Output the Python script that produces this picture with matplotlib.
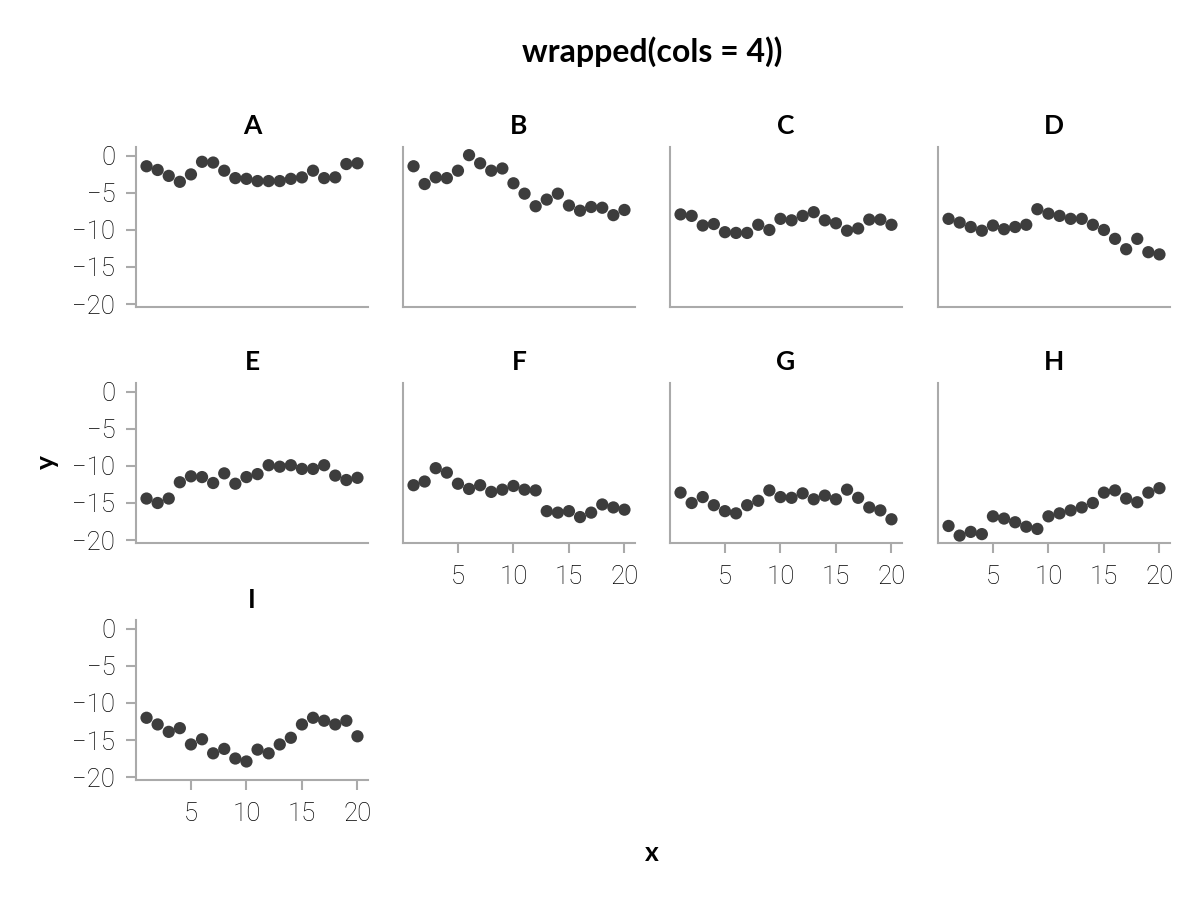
import matplotlib
matplotlib.use("Agg")
import matplotlib.pyplot as plt
from matplotlib import font_manager
import numpy as np

plt.rcParams["font.family"] = ["Lato", "DejaVu Sans"]

PANELS = ["A", "B", "C", "D", "E", "F", "G", "H", "I"]
X = list(range(1, 21))

Y_A = [-1.4, -1.9, -2.7, -3.5, -2.5, -0.8, -0.9, -2.0, -3.0, -3.1,
       -3.4, -3.4, -3.4, -3.1, -2.9, -2.0, -3.0, -2.9, -1.1, -1.0]
Y_B = [-1.4, -3.8, -2.9, -3.0, -2.0, 0.1, -1.0, -2.0, -1.7, -3.7,
       -5.1, -6.8, -5.9, -5.1, -6.7, -7.4, -6.9, -7.0, -8.0, -7.3]
Y_C = [-7.9, -8.1, -9.4, -9.2, -10.3, -10.4, -10.4, -9.3, -10.0, -8.5,
       -8.7, -8.1, -7.6, -8.7, -9.1, -10.1, -9.8, -8.6, -8.6, -9.3]
Y_D = [-8.5, -9.0, -9.6, -10.1, -9.4, -9.9, -9.6, -9.3, -7.2, -7.8,
       -8.1, -8.5, -8.5, -9.3, -10.0, -11.2, -12.6, -11.2, -13.0, -13.3]
Y_E = [-14.4, -15.0, -14.4, -12.2, -11.4, -11.5, -12.3, -11.0, -12.4, -11.5,
       -11.1, -9.9, -10.1, -9.9, -10.4, -10.4, -9.9, -11.3, -11.9, -11.6]
Y_F = [-12.6, -12.1, -10.3, -10.9, -12.4, -13.1, -12.6, -13.5, -13.2, -12.7,
       -13.2, -13.3, -16.1, -16.3, -16.1, -16.9, -16.3, -15.2, -15.6, -15.9]
Y_G = [-13.6, -15.0, -14.2, -15.3, -16.1, -16.4, -15.3, -14.7, -13.3, -14.2,
       -14.3, -13.7, -14.5, -14.0, -14.5, -13.2, -14.3, -15.6, -16.0, -17.2]
Y_H = [-18.1, -19.4, -18.9, -19.2, -16.8, -17.1, -17.6, -18.2, -18.5, -16.8,
       -16.4, -16.0, -15.6, -15.0, -13.6, -13.3, -14.4, -14.9, -13.6, -13.0]
Y_I = [-12.0, -12.9, -13.9, -13.4, -15.6, -14.9, -16.8, -16.2, -17.5, -17.9,
       -16.3, -16.8, -15.6, -14.7, -12.9, -12.0, -12.4, -12.9, -12.4, -14.5]

Y_ALL = [Y_A, Y_B, Y_C, Y_D, Y_E, Y_F, Y_G, Y_H, Y_I]

W, H = 1200, 900
COL_LEFT = [136, 403, 670, 938]
ROW_TOP = [147, 383, 620]
AX_W, AX_H = 232, 160

DOT = "#3d3d3d"
AXIS_GREY = "#aaaaaa"

tick_font = font_manager.FontProperties(family=["Roboto", "DejaVu Sans"],
                                        weight="light", size=18.5)

fig = plt.figure(figsize=(12, 9), dpi=100)

for i, (name, ys) in enumerate(zip(PANELS, Y_ALL)):
    row, col = divmod(i, 4)
    left = COL_LEFT[col] / W
    bottom = (H - ROW_TOP[row] - AX_H) / H
    ax = fig.add_axes([left, bottom, AX_W / W, AX_H / H])
    ax.scatter(X, ys, s=78, color=DOT, edgecolors="none", zorder=3)
    ax.set_xlim(0.05, 20.95)
    ax.set_ylim(-20.4, 1.2)
    ax.set_xticks([5, 10, 15, 20])
    ax.set_yticks([0, -5, -10, -15, -20])
    ax.set_yticklabels(["0", "\u22125", "\u221210", "\u221215", "\u221220"])
    for side in ["top", "right"]:
        ax.spines[side].set_visible(False)
    for side in ["left", "bottom"]:
        ax.spines[side].set_color(AXIS_GREY)
        ax.spines[side].set_linewidth(1.5)
    ax.tick_params(color=AXIS_GREY, width=1.5, length=7)
    ax.tick_params(axis="y", pad=8)
    ax.tick_params(axis="x", pad=9)
    ax.tick_params(labelcolor="black")
    for lab in ax.get_xticklabels() + ax.get_yticklabels():
        lab.set_fontproperties(tick_font)
    # only outer panels carry tick marks and labels
    show_x = i >= 5
    show_y = col == 0
    if not show_x:
        ax.tick_params(axis="x", bottom=False, labelbottom=False)
    if not show_y:
        ax.tick_params(axis="y", left=False, labelleft=False)
    ax.set_title(name, fontsize=19, fontweight="bold", pad=9)

fig.text(652 / W, 1 - 52 / H, "wrapped(cols = 4))", ha="center", va="center",
         fontsize=23, fontweight="bold")
fig.text(652 / W, 1 - 853 / H, "x", ha="center", va="center",
         fontsize=19, fontweight="bold")
fig.text(47 / W, 1 - 462 / H, "y", ha="center", va="center", rotation=90,
         fontsize=19, fontweight="bold")

fig.savefig("out.png", dpi=100)
